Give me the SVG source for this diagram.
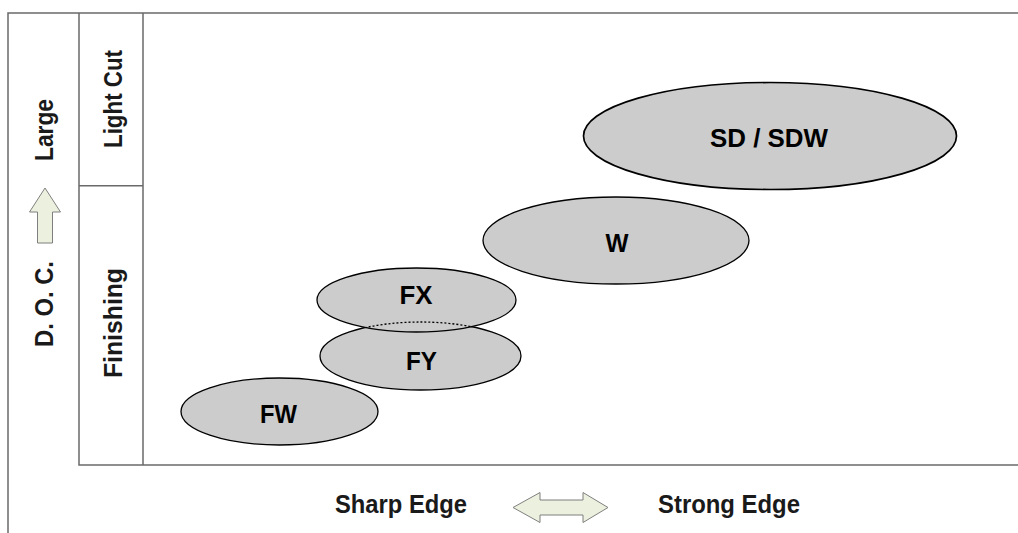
<svg xmlns="http://www.w3.org/2000/svg" width="1018" height="533" viewBox="0 0 1018 533">
<style>
.frame{stroke:#6a6a6a;stroke-width:1.5;fill:none}
.ell{fill:#cccccc;stroke:#000;stroke-width:1.3}
.lbl{font-family:"Liberation Sans",Arial,sans-serif;font-weight:bold;font-size:26px;fill:#000;text-anchor:middle}
.ax{font-family:"Liberation Sans",Arial,sans-serif;font-weight:bold;font-size:26px;fill:#1a1a1a;text-anchor:middle}
.arrow{fill:#ebf1de;stroke:#7f7f7f;stroke-width:1}
</style>
<defs>
<clipPath id="fxclip"><ellipse cx="416.5" cy="300" rx="99.5" ry="32"/></clipPath>
</defs>
<rect width="1018" height="533" fill="#fff"/>
<g id="frame">
<path class="frame" d="M8,533 V13 H1018"/>
<path class="frame" d="M79,13 V465 H1018 M143,13 V465 M79,185.7 H143"/>
</g>
<g id="axis-labels">
<text class="ax" transform="translate(53,130) rotate(-90)" textLength="62" lengthAdjust="spacingAndGlyphs">Large</text>
<text class="ax" transform="translate(53,304) rotate(-90)" textLength="86" lengthAdjust="spacingAndGlyphs">D. O. C.</text>
<text class="ax" transform="translate(121.5,99) rotate(-90)" textLength="98" lengthAdjust="spacingAndGlyphs">Light Cut</text>
<text class="ax" transform="translate(121.5,323) rotate(-90)" textLength="110" lengthAdjust="spacingAndGlyphs">Finishing</text>
<path class="arrow" d="M45,188 L60.5,212 L52.5,212 L52.5,243 L37.5,243 L37.5,212 L29.5,212 Z"/>
<text class="ax" x="401" y="513" textLength="132" lengthAdjust="spacingAndGlyphs">Sharp Edge</text>
<text class="ax" x="729" y="513" textLength="142" lengthAdjust="spacingAndGlyphs">Strong Edge</text>
<path class="arrow" d="M513,507.5 L540,492.5 L540,500 L583,500 L583,492.5 L608,507.5 L583,522.5 L583,515 L540,515 L540,522.5 Z"/>
</g>
<g id="node-SD">
<ellipse class="ell" style="stroke-width:1.7" cx="770" cy="136" rx="186.5" ry="53.5"/>
<text class="lbl" x="769" y="147" textLength="118" lengthAdjust="spacingAndGlyphs">SD / SDW</text>
</g>
<g id="node-W">
<ellipse class="ell" cx="616" cy="240.5" rx="133" ry="43.5"/>
<text class="lbl" x="617" y="252" textLength="23" lengthAdjust="spacingAndGlyphs">W</text>
</g>
<g id="node-FY">
<ellipse class="ell" cx="420.5" cy="356" rx="100.5" ry="34"/>
<text class="lbl" x="421.5" y="370" textLength="31" lengthAdjust="spacingAndGlyphs">FY</text>
</g>
<g id="node-FX">
<ellipse class="ell" cx="416.5" cy="300" rx="99.5" ry="32"/>
<text class="lbl" x="416" y="304" textLength="33" lengthAdjust="spacingAndGlyphs">FX</text>
<ellipse cx="420.5" cy="356" rx="100.5" ry="34" fill="none" stroke="#000" stroke-width="1.3" stroke-dasharray="2,2" clip-path="url(#fxclip)"/>
</g>
<g id="node-FW">
<ellipse class="ell" cx="279.5" cy="411.5" rx="98.5" ry="33.5"/>
<text class="lbl" x="278.5" y="423" textLength="37" lengthAdjust="spacingAndGlyphs">FW</text>
</g>
</svg>
